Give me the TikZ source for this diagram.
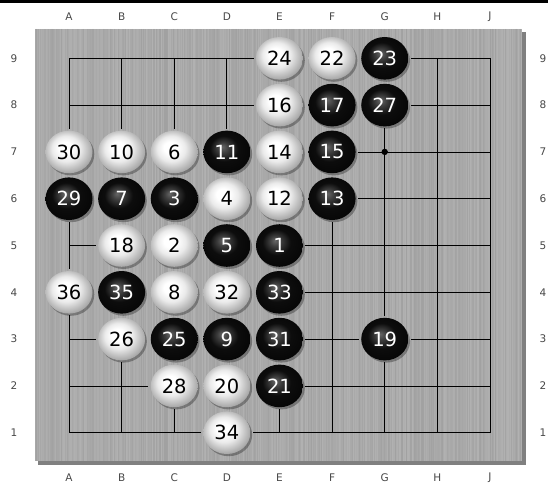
\documentclass[tikz,border=0pt]{standalone}
\usepackage{fontspec}
\setmainfont{DejaVu Sans}
\definecolor{boardgray}{RGB}{168,168,168}
\pgfdeclareradialshading{wstone}{\pgfpoint{-5bp}{6bp}}{color(0bp)=(white); color(7bp)=(white); color(15bp)=(black!8); color(22bp)=(black!24); color(30bp)=(black!42); color(40bp)=(black!46)}
\pgfdeclareradialshading{bstone}{\pgfpoint{-5bp}{6bp}}{color(0bp)=(black!60); color(6bp)=(black!76); color(15bp)=(black!95); color(40bp)=(black)}
\tikzset{
  wtxt/.style={text=black},
  btxt/.style={text=white},
  stonenum/.style={inner sep=0pt, font=\fontsize{19.5}{20}\selectfont},
  coordlabel/.style={text=black!72, font=\fontsize{10.5}{12}\selectfont, inner sep=0pt},
  gridline/.style={line width=0.8pt, line cap=rect, black}
}
\def\stonelist{5/9/w/24, 6/9/w/22, 7/9/b/23,
 5/8/w/16, 6/8/b/17, 7/8/b/27,
 1/7/w/30, 2/7/w/10, 3/7/w/6, 4/7/b/11, 5/7/w/14, 6/7/b/15,
 1/6/b/29, 2/6/b/7, 3/6/b/3, 4/6/w/4, 5/6/w/12, 6/6/b/13,
 2/5/w/18, 3/5/w/2, 4/5/b/5, 5/5/b/1,
 1/4/w/36, 2/4/b/35, 3/4/w/8, 4/4/w/32, 5/4/b/33,
 2/3/w/26, 3/3/b/25, 4/3/b/9, 5/3/b/31, 7/3/b/19,
 3/2/w/28, 4/2/w/20, 5/2/b/21,
 4/1/w/34}
\begin{document}
\begin{tikzpicture}[x=1pt,y=-1pt]
\useasboundingbox (0,0) rectangle (548,485);
% top rule
\fill[black] (0,0.3) rectangle (548,3);
% board with shadow
\fill[black!50] (38,32) rectangle (526,465);
\fill[boardgray] (35,28.5) rectangle (522,461);
\pgfmathsetseed{11}
\foreach \i in {35,...,521} {
  \pgfmathsetmacro\v{int(24+18*rnd)}
  \draw[black!\v, line width=1pt, opacity=0.35] (\i+0.5,28.5) -- (\i+0.5,461);
}
% occupancy
\foreach \c/\r/\k/\n in \stonelist {\expandafter\gdef\csname occ\c-\r\endcsname{1}}
% coordinate labels
\foreach \l [count=\i] in {A,B,C,D,E,F,G,H,J} {
  \node[coordlabel] (top\i) at ({69+52.62*(\i-1)},17) {\l};
  \node[coordlabel] (bot\i) at ({69+52.62*(\i-1)},478) {\l};
}
\foreach \r in {1,...,9} {
  \node[coordlabel] (lft\r) at (14,{58.3+46.8*(9-\r)}) {\r};
  \node[coordlabel] (rgt\r) at (543,{58.3+46.8*(9-\r)}) {\r};
}
\begin{scope}[shift={(69pt,-58.3pt)}, x=52.62pt, y=-46.8pt]
% grid: half segments from every empty point
\foreach \c in {1,...,9} {
  \foreach \r in {1,...,9} {
    \ifcsname occ\c-\r\endcsname\else
      \ifnum\c>1 \draw[gridline] (\c-1,9-\r) -- (\c-1.5,9-\r); \fi
      \ifnum\c<9 \draw[gridline] (\c-1,9-\r) -- (\c-0.5,9-\r); \fi
      \ifnum\r<9 \draw[gridline] (\c-1,9-\r) -- (\c-1,8.5-\r); \fi
      \ifnum\r>1 \draw[gridline] (\c-1,9-\r) -- (\c-1,9.5-\r); \fi
    \fi
  }
}
% star point
\fill[black] (6,2) circle[radius=3.2pt];
% stones
\foreach \c/\r/\k/\n in \stonelist {
  \fill[black, opacity=0.3] (\c-1,9-\r) ++(1.8pt,-2.2pt) ellipse[x radius=23.5pt, y radius=21.3pt];
  \shade[shading=\k stone] (\c-1,9-\r) ellipse[x radius=23.5pt, y radius=21.3pt];
  \node[stonenum, \k txt] (s\c-\r) at (\c-1,9-\r) {\n};
}
\end{scope}
\end{tikzpicture}
\end{document}
